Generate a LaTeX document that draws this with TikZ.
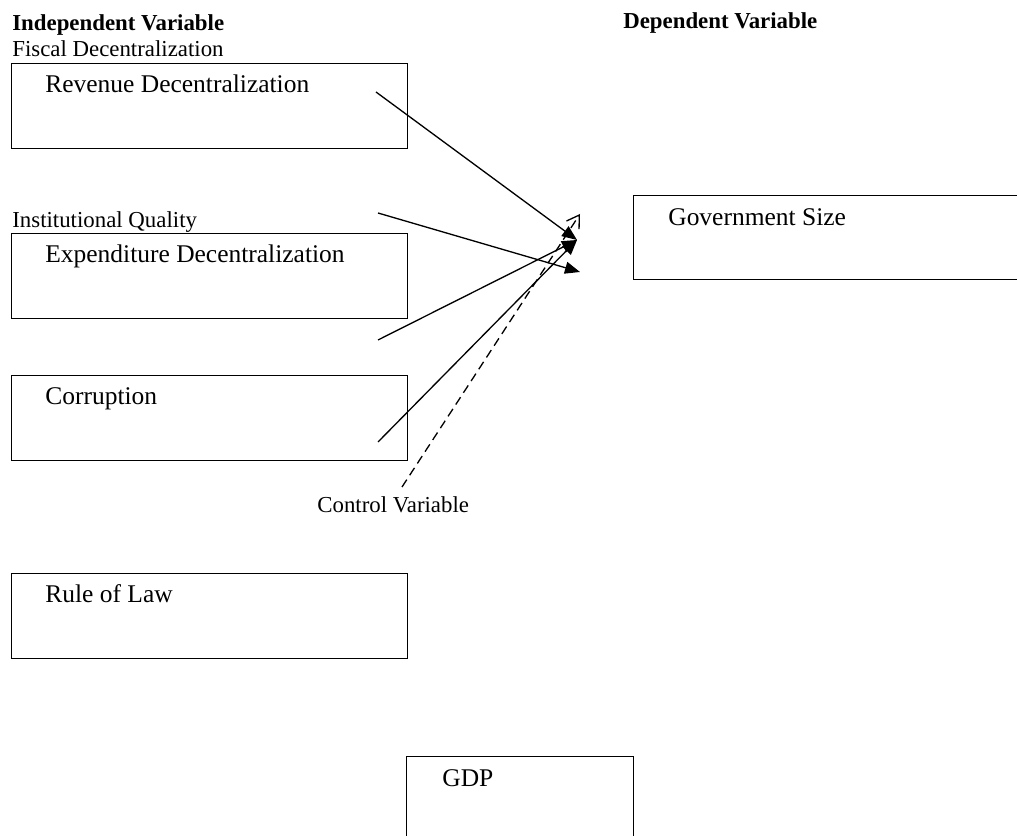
\documentclass[tikz,border=0pt]{standalone}
\usepackage{fontspec}
\setmainfont{Liberation Serif}
\usetikzlibrary{arrows.meta,positioning}
\tikzset{
  varbox/.style={draw, line width=0.8pt, anchor=north west, minimum width=7.92cm, minimum height=1.7cm, inner sep=0pt},
  boxtext/.style={anchor=base west, inner sep=0pt, font=\fontsize{14.5}{17}\selectfont},
  headtext/.style={anchor=base west, inner sep=0pt, font=\fontsize{13}{15}\selectfont\bfseries},
  tagtext/.style={anchor=base west, inner sep=0pt, font=\fontsize{13}{15}\selectfont},
  link/.style={line width=0.75pt, -{Triangle[length=0.3cm, width=0.24cm]}},
  ctrllink/.style={line width=0.75pt, dashed, dash pattern=on 5pt off 3pt, -{Straight Barb[length=0.24cm, width=0.3cm]}}
}
\begin{document}
\begin{tikzpicture}
        \useasboundingbox (0,0) rectangle (20.34,-16.72);
        \clip (0,0) rectangle (20.34,-16.72);
        \node[varbox] (revenue) at (0.22,-1.26) {};
        \node[varbox] (expenditure) at (0.22,-4.66) {};
        \node[varbox] (corruption) at (0.22,-7.5) {};
        \node[varbox] (rule) at (0.22,-11.46) {};
        \node[varbox, minimum width=4.54cm, minimum height=2cm] (gdp) at (8.12,-15.12) {};
        \node[varbox, minimum width=8cm, minimum height=1.68cm] (govsize) at (12.66,-3.9) {};
        \node[boxtext] (revtext) at ([shift={(0.68,-0.6)}]revenue.north west) {Revenue Decentralization};
        \node[boxtext] (exptext) at ([shift={(0.68,-0.6)}]expenditure.north west) {Expenditure Decentralization};
        \node[boxtext] (cortext) at ([shift={(0.68,-0.6)}]corruption.north west) {Corruption};
        \node[boxtext] (ruletext) at ([shift={(0.68,-0.6)}]rule.north west) {Rule of Law};
        \node[boxtext] (gdptext) at ([shift={(0.72,-0.62)}]gdp.north west) {GDP};
        \node[boxtext] (govtext) at ([shift={(0.7,-0.62)}]govsize.north west) {Government Size};
        \node[headtext] (indep) at (0.24,-0.62) {Independent Variable};
        \node[headtext] (dep) at (12.46,-0.58) {Dependent Variable};
        \node[tagtext] (fiscal) at (0.24,-1.14) {Fiscal Decentralization};
        \node[tagtext] (inst) at (0.24,-4.56) {Institutional Quality};
        \node[tagtext] (control) at (6.34,-10.26) {Control Variable};
        % arrow ends
        \coordinate (hub) at (11.54,-4.8);
        \coordinate (instend) at (11.6,-5.44);
        \coordinate (ctrlend) at (11.6,-4.28);
        \coordinate (revstart) at (7.52,-1.84);
        \coordinate (inststart) at (7.56,-4.26);
        \coordinate (expstart) at (7.56,-6.8);
        \coordinate (corstart) at (7.56,-8.84);
        \coordinate (ctrlstart) at (8.04,-9.74);
        \draw[link] (revstart) -- (hub);
        \draw[link] (inststart) -- (instend);
        \draw[link] (expstart) -- (hub);
        \draw[link] (corstart) -- (hub);
        \draw[ctrllink] (ctrlstart) -- (ctrlend);
\end{tikzpicture}
\end{document}
